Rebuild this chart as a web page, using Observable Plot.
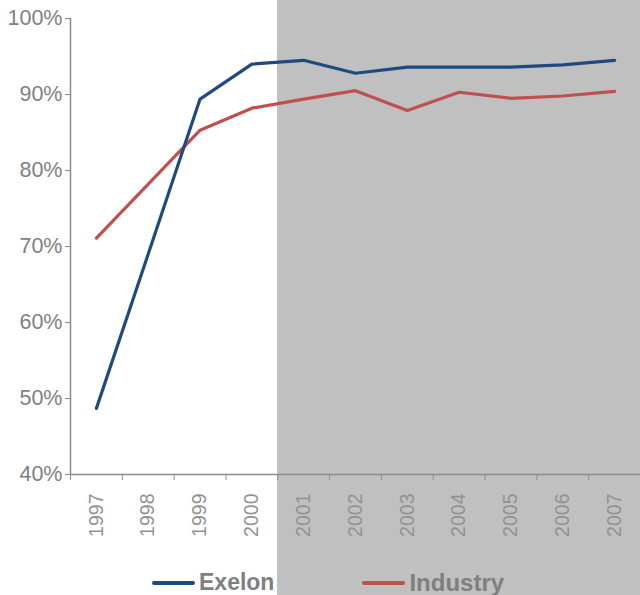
<!DOCTYPE html>
<html>
<head>
<meta charset="utf-8">
<script src="https://cdn.jsdelivr.net/npm/d3@7"></script>
<script src="https://cdn.jsdelivr.net/npm/@observablehq/plot@0.6"></script>
<style>
  html, body { margin: 0; padding: 0; background: #ffffff; }
  #wrap { position: relative; width: 640px; height: 595px; overflow: hidden; }
  #shade { position: absolute; top: 0; bottom: 0; right: 0; background: #c0c0c0; z-index: 0; }
  #chart { position: relative; z-index: 1; }
  #chart svg { display: block; background: transparent; }
  #legend { position: relative; z-index: 1; display: flex; align-items: center; height: 30px;
            padding-left: 152px; padding-top: 5px; box-sizing: border-box;
            font-family: "Liberation Sans", Arial, sans-serif; font-weight: bold; font-size: 23px; color: #7f7f7f; }
  .item { display: flex; align-items: center; margin-right: 88px; }
  .sw { width: 43px; height: 4px; border-radius: 2px; margin-right: 4px; }
</style>
</head>
<body>
<div id="wrap">
  <div id="shade"></div>
  <div id="chart"></div>
  <div id="legend"></div>
</div>
<script>
const years = [1997, 1998, 1999, 2000, 2001, 2002, 2003, 2004, 2005, 2006, 2007];
const exelon = [0.487, 0.690, 0.894, 0.940, 0.945, 0.928, 0.936, 0.936, 0.936, 0.939, 0.945];
const industry = [0.711, 0.782, 0.853, 0.882, 0.894, 0.905, 0.879, 0.903, 0.895, 0.898, 0.904];
const seriesNames = ["Exelon", "Industry"];
const seriesColors = ["#1f4a7f", "#c0504d"];
const yTicks = [0.4, 0.5, 0.6, 0.7, 0.8, 0.9, 1.0];
const shadeFrom = 2001;

const boundaries = [...years.map(y => y - 0.5), years[years.length - 1] + 0.5];
const rows = [
  ...years.map((year, i) => ({year, value: exelon[i], series: seriesNames[0]})),
  ...years.map((year, i) => ({year, value: industry[i], series: seriesNames[1]}))
];

const chart = Plot.plot({
  width: 640,
  height: 565,
  marginLeft: 70,
  marginRight: 0,
  marginTop: 18,
  marginBottom: 91,
  style: {background: "transparent", color: "#808080", fontFamily: "'Liberation Sans', Arial, sans-serif", overflow: "visible"},
  x: {domain: [boundaries[0], boundaries[boundaries.length - 1]]},
  y: {domain: [0.4, 1.0]},
  marks: [
    Plot.ruleY([0.4], {stroke: "#8c8c8c", strokeWidth: 1.5}),
    Plot.ruleX([boundaries[0]], {stroke: "#8c8c8c", strokeWidth: 1.5}),
    Plot.axisY({ticks: yTicks, tickFormat: d => Math.round(d * 100) + "%", tickSize: 5, tickPadding: 3,
      fontSize: 21.5, label: null, stroke: "#8c8c8c"}),
    Plot.axisX({ticks: boundaries, tickFormat: () => "", tickSize: 6, label: null, stroke: "#8c8c8c"}),
    Plot.axisX({ticks: years, tickFormat: d => String(d), tickSize: 0, tickRotate: -90, tickPadding: 19,
      fontSize: 19.5, fill: "#929292", label: null}),
    Plot.line(rows.filter(d => d.series === seriesNames[1]), {x: "year", y: "value", stroke: seriesColors[1], strokeWidth: 3.2}),
    Plot.line(rows.filter(d => d.series === seriesNames[0]), {x: "year", y: "value", stroke: seriesColors[0], strokeWidth: 3.2})
  ]
});
document.getElementById("chart").appendChild(chart);

const left = chart.scale("x").apply(shadeFrom - 0.5);
document.getElementById("shade").style.left = left + "px";

const legend = document.getElementById("legend");
seriesNames.forEach((name, i) => {
  const it = document.createElement("div");
  it.className = "item";
  const sw = document.createElement("div");
  sw.className = "sw";
  sw.style.background = seriesColors[i];
  const tx = document.createElement("span");
  tx.textContent = name;
  if (i === 1) tx.style.fontSize = "24px";
  it.appendChild(sw);
  it.appendChild(tx);
  legend.appendChild(it);
});
</script>
</body>
</html>
